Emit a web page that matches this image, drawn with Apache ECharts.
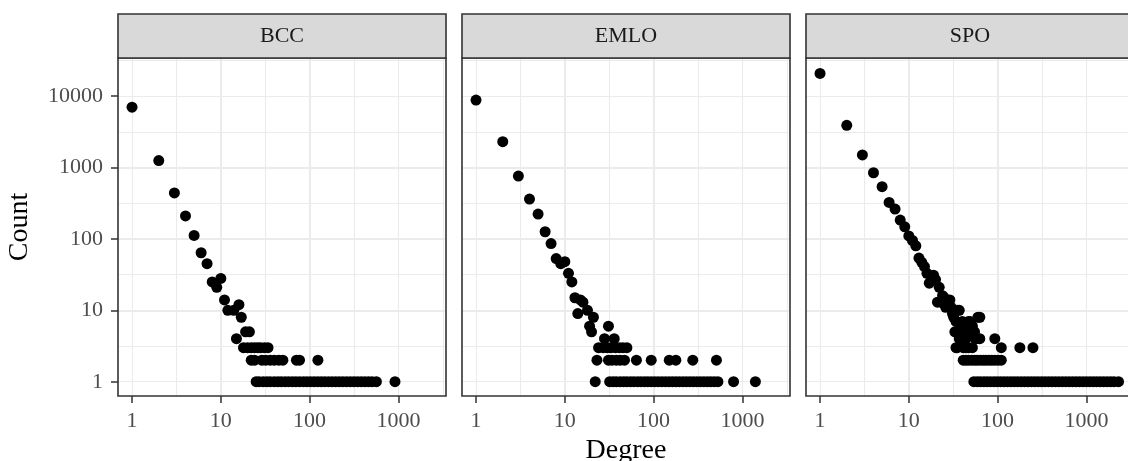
<!DOCTYPE html>
<html lang="en">
<head>
<meta charset="UTF-8">
<title>Degree distribution</title>
<script src="https://cdn.jsdelivr.net/npm/echarts@6/dist/echarts.min.js"></script>
<style>
  html, body { margin: 0; padding: 0; background: #fff; }
  #chart { width: 1128px; height: 461px; }
</style>
</head>
<body>
<div id="chart"></div>
<script>
// facets
const panels = ['BCC', 'EMLO', 'SPO'];

// BCC
const bccDegree = [1, 2, 3, 4, 5, 6, 7, 8, 9, 10, 11, 12, 14, 15, 16, 17, 19, 21,
  18, 20, 22, 24, 26, 28, 31, 34,
  22, 24, 29, 32, 36, 40, 45, 50, 71, 77, 124,
  25, 27, 30, 33, 36, 40, 44, 48, 53, 58, 64, 70, 77, 85, 93, 102, 112, 123, 135, 148,
  163, 179, 197, 216, 237, 261, 287, 315, 346, 380, 418, 460, 505, 565, 915];
const bccCount = [7000, 1250, 440, 210, 112, 64, 45, 25, 21, 28, 14, 10, 10, 4, 12, 8, 5, 5,
  3, 3, 3, 3, 3, 3, 3, 3,
  2, 2, 2, 2, 2, 2, 2, 2, 2, 2, 2,
  1, 1, 1, 1, 1, 1, 1, 1, 1, 1, 1, 1, 1, 1, 1, 1, 1, 1, 1, 1,
  1, 1, 1, 1, 1, 1, 1, 1, 1, 1, 1, 1, 1, 1, 1];

// EMLO
const emloDegree = [1, 2, 3, 4, 5, 6, 7, 8, 9, 10, 11, 12, 13, 14, 15, 16, 18, 19, 20, 21,
  31, 28, 36,
  24, 27, 30, 33, 37, 41, 45, 50,
  23, 31, 34, 38, 42, 47, 64, 94, 150, 178, 276, 510,
  22, 32, 35, 38, 42, 46, 50, 55, 60, 66, 72, 79, 86, 94, 103, 113, 124, 136, 149, 163,
  178, 195, 214, 234, 256, 280, 307, 336, 368, 403, 441, 483, 530, 795, 1400];
const emloCount = [8800, 2300, 760, 362, 223, 126, 86, 53, 45, 48, 33, 25, 15, 9, 14, 13, 10, 6, 5, 8,
  6, 4, 4,
  3, 3, 3, 3, 3, 3, 3, 3,
  2, 2, 2, 2, 2, 2, 2, 2, 2, 2, 2, 2,
  1, 1, 1, 1, 1, 1, 1, 1, 1, 1, 1, 1, 1, 1, 1, 1, 1, 1, 1, 1,
  1, 1, 1, 1, 1, 1, 1, 1, 1, 1, 1, 1, 1, 1, 1];

// SPO
const spoDegree = [1, 2, 3, 4, 5, 6, 7, 8, 9, 10, 11, 12, 13, 14, 15, 16, 17, 18, 19, 20,
  21, 22, 23, 24, 25, 26, 27, 28, 29, 30, 31, 32, 35, 37,
  33, 34, 36, 38, 40, 42, 45, 47, 49, 50, 52, 55, 60, 63,
  37, 39, 44, 56, 58, 63, 93,
  34, 35, 41, 43, 45, 47, 52, 110, 178, 250,
  41, 44, 47, 51, 55, 59, 64, 69, 74, 80, 86, 93, 101, 110,
  54, 59, 64, 70, 76, 83, 91, 99, 108, 118, 129, 141, 154, 168, 184, 201, 220, 240, 262, 286,
  313, 342, 374, 409, 447, 489, 535, 585, 640, 700, 765, 837, 915, 1000, 1094, 1196, 1308,
  1430, 1564, 1710, 1870, 2045, 2300];
const spoCount = [20800, 3900, 1500, 845, 540, 325, 262, 184, 148, 110, 95, 80, 54, 47, 41, 33, 24, 30, 31, 27,
  13, 21, 13, 16, 15, 11, 14, 12, 14, 11, 9, 8, 10, 10,
  5, 7, 5, 6, 7, 5, 6, 7, 7, 5, 6, 5, 8, 8,
  4, 4, 4, 4, 4, 4, 4,
  3, 3, 3, 3, 3, 3, 3, 3, 3, 3,
  2, 2, 2, 2, 2, 2, 2, 2, 2, 2, 2, 2, 2, 2,
  1, 1, 1, 1, 1, 1, 1, 1, 1, 1, 1, 1, 1, 1, 1, 1, 1, 1, 1, 1,
  1, 1, 1, 1, 1, 1, 1, 1, 1, 1, 1, 1, 1, 1, 1, 1, 1,
  1, 1, 1, 1, 1, 1];

const xTicks = [1, 10, 100, 1000];
const yTicks = [1, 10, 100, 1000, 10000];

const degrees = [bccDegree, emloDegree, spoDegree];
const counts = [bccCount, emloCount, spoCount];

// layout, px
const panelLeft = [118, 462, 806];
const panelW = 328, panelTop = 58, panelH = 338, stripTop = 14;
// axis range in log10 units (ggplot 5% expansion)
const xMin = -0.158, xMax = 3.536, yMin = -0.2, yMax = 4.534;

const font = 'Liberation Serif';
const lg = v => Math.log10(v);
const fmt = v => String(Math.round(Math.pow(10, v)));

let chart = echarts.init(document.getElementById('chart'));

let grids = [], xAxes = [], yAxes = [], series = [], graphics = [];
panels.forEach(function (name, i) {
    grids.push({
        left: panelLeft[i], top: panelTop, width: panelW, height: panelH,
        show: true, borderColor: '#333333', borderWidth: 1.6, z: 3,
        backgroundColor: 'transparent',
        containLabel: false, outerBoundsMode: 'none'
    });
    // major axis: labels, ticks, major grid
    xAxes.push({
        type: 'value', gridIndex: i, min: xMin, max: xMax,
        minInterval: 1, maxInterval: 1,
        axisLine: { show: false, onZero: false },
        axisTick: { show: true, customValues: xTicks.map(lg), length: 7,
            lineStyle: { color: '#333333', width: 1.5 } },
        axisLabel: { customValues: xTicks.map(lg), formatter: fmt, color: '#4D4D4D',
            fontFamily: font, fontSize: 22, margin: 14 },
        splitLine: { show: true, showMinLine: false, showMaxLine: false,
            lineStyle: { color: '#EBEBEB', width: 2 } },
        name: i === 1 ? 'Degree' : '',
        nameLocation: 'middle', nameGap: 40,
        nameTextStyle: { fontFamily: font, fontSize: 28, color: '#000000' }
    });
    // minor grid
    xAxes.push({
        type: 'value', gridIndex: i, min: xMin, max: xMax,
        minInterval: 0.5, maxInterval: 0.5,
        axisLine: { show: false, onZero: false }, axisTick: { show: false }, axisLabel: { show: false },
        splitLine: { show: true, showMinLine: false, showMaxLine: false,
            lineStyle: { color: '#EBEBEB', width: 1.1 } },
        z: -1
    });
    yAxes.push({
        type: 'value', gridIndex: i, min: yMin, max: yMax,
        minInterval: 1, maxInterval: 1,
        axisLine: { show: false, onZero: false },
        axisTick: { show: i === 0, customValues: yTicks.map(lg), length: 7,
            lineStyle: { color: '#333333', width: 1.5 } },
        axisLabel: { show: i === 0, customValues: yTicks.map(lg), formatter: fmt, color: '#4D4D4D',
            fontFamily: font, fontSize: 22, margin: 15 },
        splitLine: { show: true, showMinLine: false, showMaxLine: false,
            lineStyle: { color: '#EBEBEB', width: 2 } },
        name: i === 0 ? 'Count' : '',
        nameLocation: 'middle', nameGap: 84, nameRotate: 90,
        nameTextStyle: { fontFamily: font, fontSize: 28, color: '#000000' }
    });
    yAxes.push({
        type: 'value', gridIndex: i, min: yMin, max: yMax,
        minInterval: 0.5, maxInterval: 0.5,
        axisLine: { show: false, onZero: false }, axisTick: { show: false }, axisLabel: { show: false },
        splitLine: { show: true, showMinLine: false, showMaxLine: false,
            lineStyle: { color: '#EBEBEB', width: 1.1 } },
        z: -1
    });
    series.push({
        type: 'scatter', xAxisIndex: 2 * i, yAxisIndex: 2 * i,
        symbolSize: 11, itemStyle: { color: '#000000', opacity: 1 },
        data: degrees[i].map((d, k) => [lg(d), lg(counts[i][k])]),
        silent: true
    });
    // facet strip
    graphics.push({
        type: 'rect', z: 10,
        shape: { x: panelLeft[i], y: stripTop, width: panelW, height: panelTop - stripTop },
        style: { fill: '#D9D9D9', stroke: '#333333', lineWidth: 1.6 }
    });
    graphics.push({
        type: 'text', z: 11,
        x: panelLeft[i] + panelW / 2, y: (stripTop + panelTop) / 2,
        style: { text: name, fill: '#1A1A1A', fontFamily: font, fontSize: 22,
            align: 'center', verticalAlign: 'middle',
            textAlign: 'center', textVerticalAlign: 'middle' }
    });
});

chart.setOption({
    animation: false,
    backgroundColor: '#ffffff',
    grid: grids,
    xAxis: xAxes,
    yAxis: yAxes,
    series: series,
    graphic: { elements: graphics }
});
</script>
</body>
</html>
